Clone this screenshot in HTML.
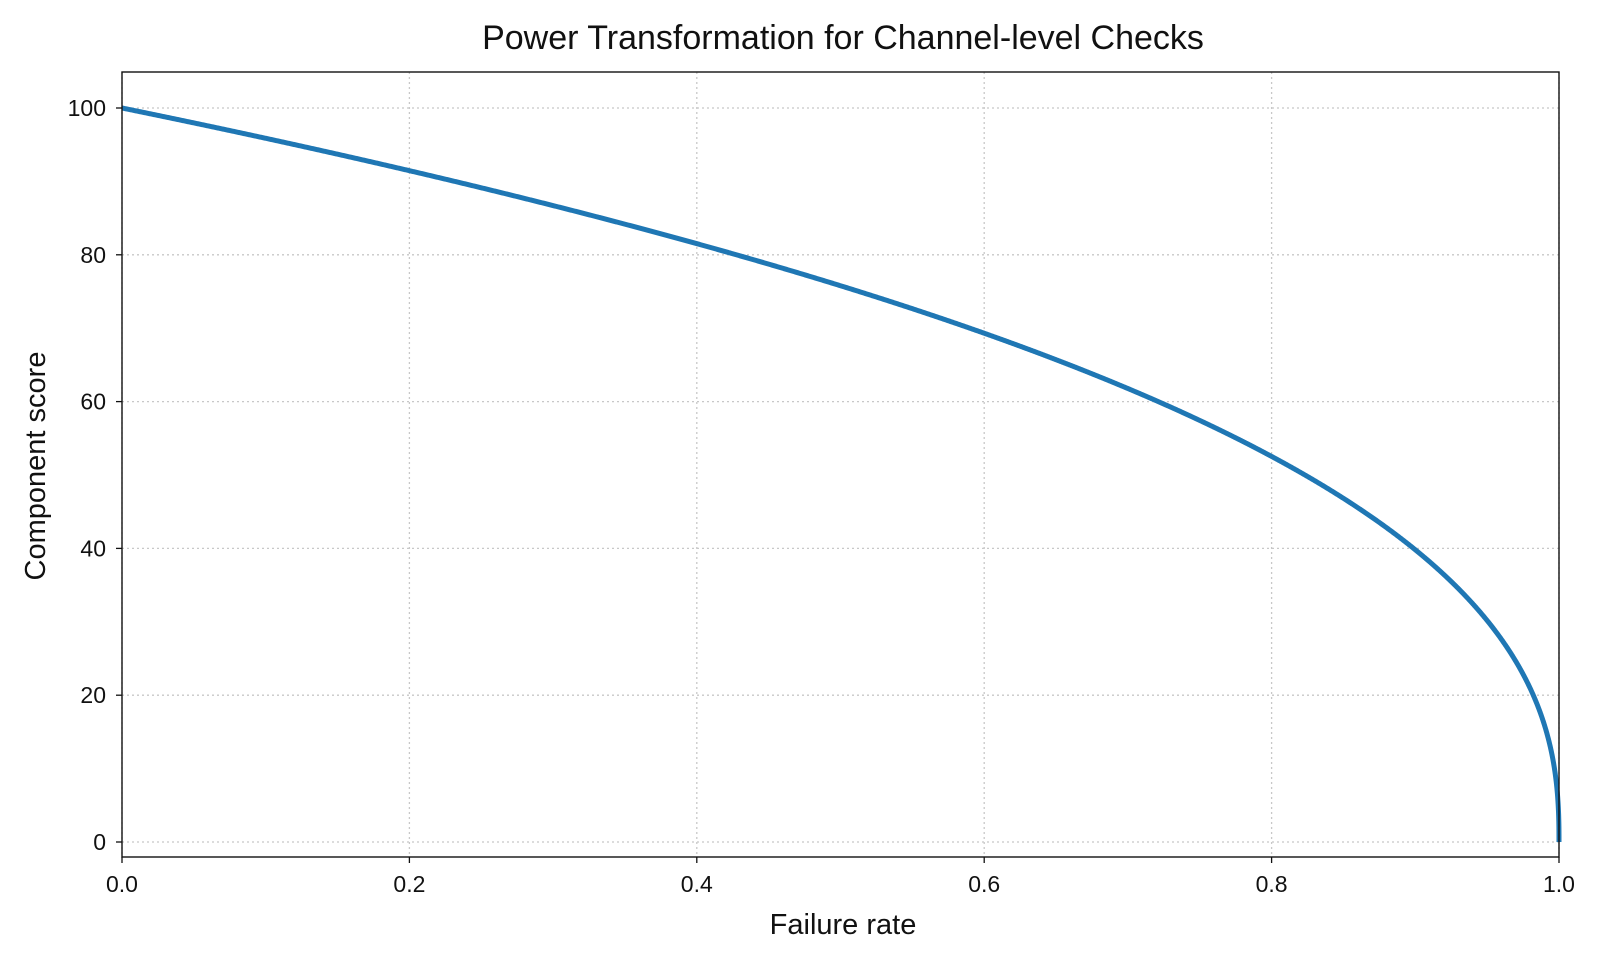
<!DOCTYPE html>
<html><head><meta charset="utf-8">
<style>
html,body{margin:0;padding:0;background:#fff;}
svg{display:block;font-family:"Liberation Sans","DejaVu Sans",sans-serif;}
</style></head>
<body>
<svg id="s" width="1600" height="960" viewBox="0 0 1600 960" xmlns="http://www.w3.org/2000/svg">
<rect width="1600" height="960" fill="#fff"/>
<text x="843" y="49" font-size="34" text-anchor="middle" fill="#111">Power Transformation for Channel-level Checks</text>
<g id="grid" stroke="#c8c8c8" stroke-width="1.3" stroke-dasharray="2,3"></g>
<g id="ticks" fill="#111" font-size="23"></g>
<path id="curve" fill="none" stroke="#1f77b4" stroke-width="5" stroke-linejoin="round"/>
<rect x="122" y="72" width="1437" height="785" fill="none" stroke="#111" stroke-width="1.4"/>
<text x="843" y="934" font-size="29" text-anchor="middle" fill="#111">Failure rate</text>
<text transform="translate(45,466) rotate(-90)" font-size="29" text-anchor="middle" fill="#111">Component score</text>
</svg>
<script>
var X0=122,X1=1559,Y0=842,SY=7.34;
function px(x){return X0+(X1-X0)*x;}
function py(y){return Y0-y*SY;}
var ns="http://www.w3.org/2000/svg";
var g=document.getElementById("grid"),t=document.getElementById("ticks");
function el(p,tag,a,txt){var e=document.createElementNS(ns,tag);for(var k in a)e.setAttribute(k,a[k]);if(txt)e.textContent=txt;p.appendChild(e);return e;}
[0,0.2,0.4,0.6,0.8,1.0].forEach(function(v){var x=px(v);
 el(g,"line",{x1:x,x2:x,y1:72,y2:857});
 el(t,"line",{x1:x,x2:x,y1:857,y2:863,stroke:"#111","stroke-width":1.3});
 el(t,"text",{x:x,y:892,"text-anchor":"middle"},v.toFixed(1));});
[0,20,40,60,80,100].forEach(function(v){var y=py(v);
 el(g,"line",{x1:122,x2:1559,y1:y,y2:y});
 el(t,"line",{x1:116,x2:122,y1:y,y2:y,stroke:"#111","stroke-width":1.3});
 el(t,"text",{x:106,y:y+8,"text-anchor":"end"},String(v));});
var d="";
for(var i=0;i<=2000;i++){var x=i/2000;var xx=1-Math.pow(1-x,1.5);var y=100*Math.pow(Math.max(0,1-xx),0.4);
 d+=(i?"L":"M")+px(xx).toFixed(2)+","+py(y).toFixed(2);}
document.getElementById("curve").setAttribute("d",d);
</script>
</body></html>
